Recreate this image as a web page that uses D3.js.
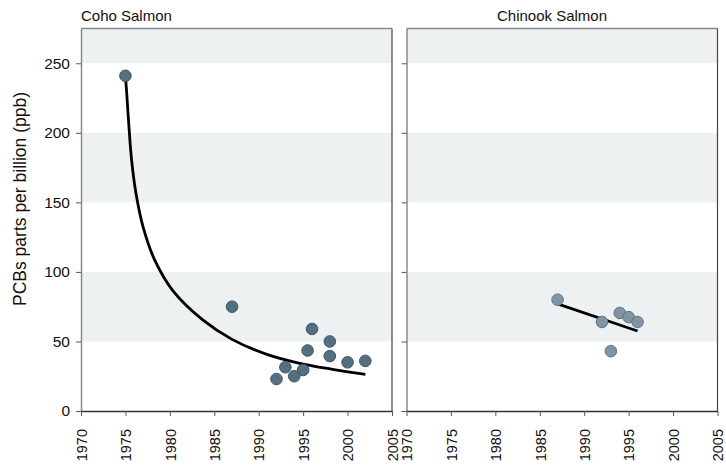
<!DOCTYPE html>
<html><head><meta charset="utf-8">
<script src="https://cdn.jsdelivr.net/npm/d3@7"></script>
<style>body{margin:0;background:#fff}svg{display:block}text{font-family:"Liberation Sans",Arial,sans-serif;fill:#111}</style>
</head><body><svg id="c" width="726" height="465"></svg>
<script>
const xTicks = [1970, 1975, 1980, 1985, 1990, 1995, 2000, 2005];
const yTicks = [0, 50, 100, 150, 200, 250];
const bandRanges = [[50, 100], [150, 200], [250, 275]];
const panelTitles = ["Coho Salmon", "Chinook Salmon"];
const yLabel = "PCBs parts per billion (ppb)";

const cohoYears = [1975, 1987, 1992, 1993, 1994, 1995, 1995.5, 1996, 1998, 1998, 2000, 2002];
const cohoPCB   = [241, 75, 23, 31.5, 25, 29.5, 43.5, 59, 50, 39.5, 35, 36];
const cohoFitYears = [1975, 1975.15, 1975.4, 1975.7, 1976.2, 1977, 1978.3, 1980.4, 1983.7, 1987, 1991, 1994.6, 1998.3, 2002];
const cohoFitPCB   = [241, 228, 204, 180, 156, 132, 108.5, 86, 65.5, 51.5, 40.5, 34.3, 30, 26.4];

const chinookYears = [1987, 1992, 1993, 1994, 1995, 1996];
const chinookPCB   = [80, 64, 43, 70.5, 67.5, 64];
const chinookFitYears = [1987, 1996];
const chinookFitPCB   = [77, 57.5];

(function () {
const svg = d3.select("#c");
const plotTop = 28.5, plotBottom = 411;
const y = d3.scaleLinear().domain([0, 275]).range([plotBottom, plotTop]);

const panels = [
  {x0: 81, x1: 392, title: panelTitles[0], titleX: 81, anchor: "start", years: cohoYears, vals: cohoPCB,
   fy: cohoFitYears, fv: cohoFitPCB, fill: "#556f80", stroke: "#3e5564", labels: true},
  {x0: 406.5, x1: 717.5, title: panelTitles[1], titleX: 552, anchor: "middle", years: chinookYears, vals: chinookPCB,
   fy: chinookFitYears, fv: chinookFitPCB, fill: "#7f95a4", stroke: "#5f7585", labels: false}
];

panels.forEach(p => {
  const x = d3.scaleLinear().domain([1970, 2005]).range([p.x0, p.x1]);
  const g = svg.append("g");
  g.selectAll("rect.band").data(bandRanges).join("rect")
    .attr("x", p.x0).attr("width", p.x1 - p.x0)
    .attr("y", d => y(d[1])).attr("height", d => y(d[0]) - y(d[1]))
    .attr("fill", "#eef1f2");
  g.append("line").attr("x1", p.x0).attr("x2", p.x1).attr("y1", plotTop).attr("y2", plotTop)
    .attr("stroke", "#8a8a8a").attr("stroke-width", 1.5);
  g.append("line").attr("x1", p.x1).attr("x2", p.x1).attr("y1", plotTop).attr("y2", plotBottom)
    .attr("stroke", "#444").attr("stroke-width", 1.2);
  const ya = g.append("g").attr("transform", `translate(${p.x0},0)`)
    .call(d3.axisLeft(y).tickValues(yTicks).tickSize(5).tickSizeOuter(0).tickPadding(6)
      .tickFormat(p.labels ? d3.format("d") : () => ""));
  ya.select(".domain").attr("stroke", "#8a8a8a").attr("stroke-width", 1.5);
  ya.selectAll(".tick line").attr("stroke", "#555");
  ya.selectAll(".tick text").style("font-size", "15.5px").attr("fill", "#111");
  const xa = g.append("g").attr("transform", `translate(0,${plotBottom})`)
    .call(d3.axisBottom(x).tickValues(xTicks).tickSize(5).tickSizeOuter(0).tickFormat(d3.format("d")));
  xa.select(".domain").attr("stroke", "#333").attr("stroke-width", 1.3);
  xa.selectAll(".tick line").attr("stroke", "#555");
  xa.selectAll(".tick text").style("font-size", "14.5px").attr("fill", "#111")
    .attr("transform", "rotate(-90)").attr("text-anchor", "end")
    .attr("x", -18).attr("y", 0).attr("dy", "0.36em");
  const fit = p.fy.map((yr, i) => [yr, p.fv[i]]);
  g.append("path").datum(fit)
    .attr("d", d3.line().x(d => x(d[0])).y(d => y(d[1])).curve(d3.curveCatmullRom.alpha(0.5)))
    .attr("fill", "none").attr("stroke", "#000").attr("stroke-width", 2.8);
  g.selectAll("circle").data(p.years.map((yr, i) => [yr, p.vals[i]])).join("circle")
    .attr("cx", d => x(d[0])).attr("cy", d => y(d[1])).attr("r", 5.8)
    .attr("fill", p.fill).attr("stroke", p.stroke).attr("stroke-width", 1);
  svg.append("text").attr("x", p.titleX).attr("y", 21).attr("text-anchor", p.anchor)
    .style("font-size", "15px").text(p.title);
});

svg.append("text").attr("transform", "translate(26,199) rotate(-90)").attr("text-anchor", "middle")
  .style("font-size", "17.5px").text(yLabel);
})();
</script></body></html>
